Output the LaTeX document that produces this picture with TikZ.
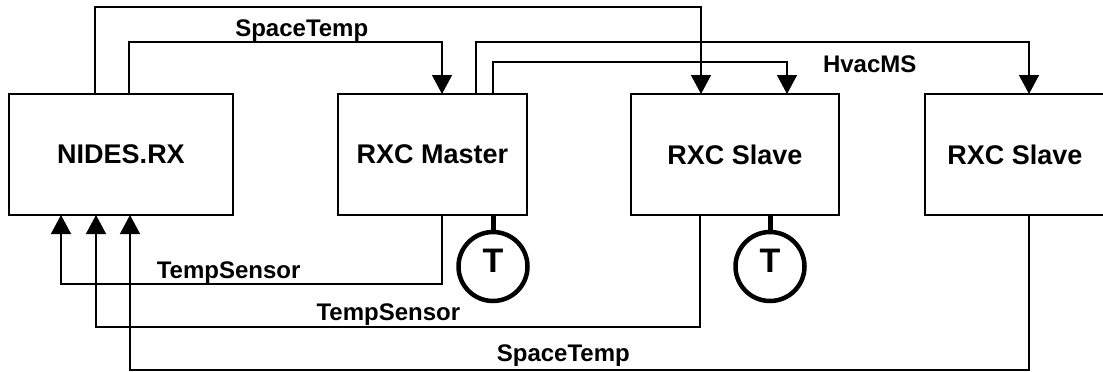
\documentclass[tikz,border=0pt]{standalone}
\usepackage{fontspec}
\setmainfont{Liberation Sans}
\usetikzlibrary{arrows.meta,positioning}

\begin{document}
\begin{tikzpicture}[
  x=1pt, y=-1pt,
  unit/.style={draw, line width=1.8pt, minimum height=121pt, inner sep=0pt, outer sep=0pt,
               font=\fontsize{27}{30}\selectfont\bfseries},
  sensor/.style={draw, circle, line width=4.5pt, minimum size=69pt, inner sep=0pt, outer sep=0pt,
                 text depth=11pt, font=\fontsize{34}{36}\selectfont\bfseries},
  wire/.style={line width=1.4pt},
  tag/.style={font=\fontsize{24}{26}\selectfont\bfseries, inner sep=0pt},
  >={Triangle[width=20pt,length=19pt]}]
  \useasboundingbox (0,0) rectangle (1103,372);
  % the four controllers
  \node[unit, minimum width=224pt] (nides) at (121,154.5) {NIDES.RX};
  \node[unit, minimum width=189pt, right=105pt of nides]  (master) {RXC Master};
  \node[unit, minimum width=208pt, right=104pt of master] (slave1) {RXC Slave};
  \node[unit, minimum width=180pt, right=86pt of slave1]  (slave2) {RXC Slave};
  % temperature sensors
  \node[sensor, below=17pt of master.south, xshift=60.5pt] (tmaster) {T};
  \node[sensor, below=17pt of slave1.south, xshift=35pt]   (tslave)  {T};
  \draw[line width=5pt] ([xshift=60.5pt]master.south) -- (tmaster.north);
  \draw[line width=5pt] ([xshift=35pt]slave1.south) -- (tslave.north);
  % links over the top
  \draw[wire, ->] ([xshift=-26pt]nides.north) -- ++(0,-87) -| ([xshift=-34pt]slave1.north);
  \draw[wire, ->] ([xshift=8pt]nides.north) -- ++(0,-52)
        -| node[tag, pos=0.276, above] {SpaceTemp} ([xshift=9.5pt]master.north);
  \draw[wire, ->] ([xshift=43.5pt]master.north) -- ++(0,-52)
        -| node[tag, pos=0.356, below=13pt] {HvacMS} ([xshift=14pt]slave2.north);
  \draw[wire, ->] ([xshift=60.5pt]master.north) -- ++(0,-32) -| ([xshift=52pt]slave1.north);
  % links back to NIDES.RX
  \draw[wire, ->] ([xshift=9.5pt]master.south) -- ++(0,69)
        -| node[tag, pos=0.28, above] {TempSensor} ([xshift=-60pt]nides.south);
  \draw[wire, ->] ([xshift=-35pt]slave1.south) -- ++(0,112)
        -| node[tag, pos=0.258, above=1pt] {TempSensor} ([xshift=-25pt]nides.south);
  \draw[wire, ->] ([xshift=14pt]slave2.south) -- ++(0,155)
        -| node[tag, pos=0.259, above=3pt] {SpaceTemp} ([xshift=9pt]nides.south);
\end{tikzpicture}
\end{document}
